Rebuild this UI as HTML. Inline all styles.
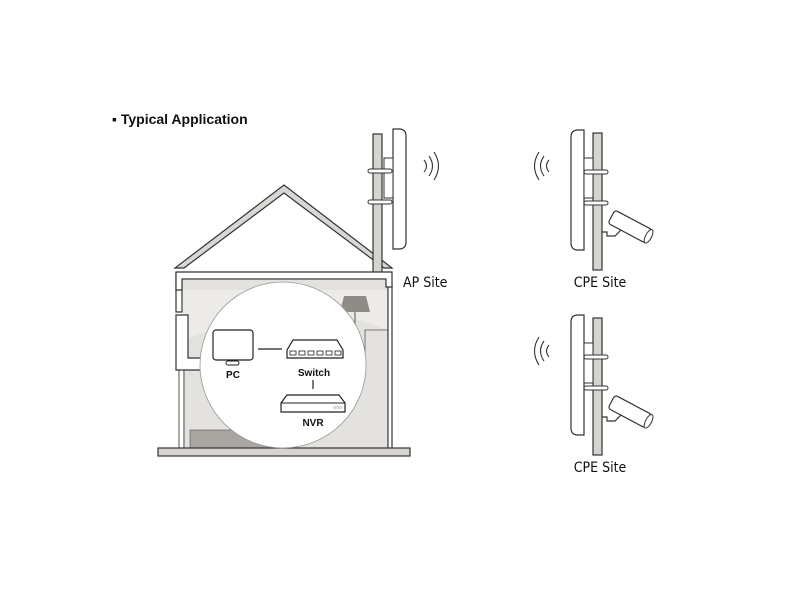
<!DOCTYPE html>
<html><head><meta charset="utf-8"><style>
html,body{margin:0;padding:0;background:#fff;}
svg{display:block;}
text{font-family:"Liberation Sans",sans-serif;fill:#111;}
.lbl{font-family:"DejaVu Sans Condensed","DejaVu Sans","Liberation Sans",sans-serif;}
</style></head><body>
<svg width="800" height="600" viewBox="0 0 800 600" xmlns="http://www.w3.org/2000/svg">
<rect x="0" y="0" width="800" height="600" fill="#fff"/>
<text x="112" y="124" font-size="14" font-weight="bold">▪ Typical Application</text>

<rect x="183" y="280" width="205" height="168" fill="#e4e2de"/>
<polygon points="183,290 388,290 388,330 300,300 183,340" fill="#ecebe8"/>
<rect x="190" y="430" width="80" height="18" fill="#a9a6a1" stroke="#555" stroke-width="0.6"/>
<polygon points="344,296 366,296 370,312 340,312" fill="#8f8c88"/>
<line x1="355" y1="312" x2="355" y2="330" stroke="#555"/>
<path d="M365,370 V330 H388" fill="none" stroke="#555" stroke-width="0.8"/>
<path d="M176,273 V312 H182 V280" fill="#fff" stroke="#333" stroke-width="1.2"/>
<path d="M176,315 V370 H230 V358 H188 V315 Z" fill="#fff" stroke="#333" stroke-width="1.2"/>
<line x1="179" y1="370" x2="179" y2="448" stroke="#555"/>
<line x1="184" y1="370" x2="184" y2="448" stroke="#555"/>
<line x1="388" y1="285" x2="388" y2="448" stroke="#333" stroke-width="1.2"/>
<line x1="392" y1="285" x2="392" y2="448" stroke="#333" stroke-width="1.2"/>
<polygon points="284,185 392,268 384,268 284,193 184,268 175,268" fill="#d9d7d3" stroke="#333" stroke-width="1.2"/>
<rect x="373" y="134" width="9" height="142" fill="#d6d4d0" stroke="#333" stroke-width="1.2"/>
<path d="M176,272 H392 V287 H386 V279 H182 V290 H176 Z" fill="#fff" stroke="#333" stroke-width="1.2"/>
<rect x="158" y="448" width="252" height="8" fill="#d6d4d0" stroke="#333" stroke-width="1.2"/>

<circle cx="283" cy="365" r="83" fill="#fff" stroke="#999" stroke-width="0.8"/>
<rect x="213" y="330" width="40" height="30" rx="3" fill="#fff" stroke="#222" stroke-width="1.2"/>
<rect x="226" y="361" width="13" height="4" rx="2" fill="#fff" stroke="#222"/>
<text x="233" y="378" font-size="10" font-weight="bold" text-anchor="middle">PC</text>
<line x1="258" y1="349" x2="282" y2="349" stroke="#222" stroke-width="1.2"/>
<polygon points="293,340 337,340 343,350 343,358 287,358 287,350" fill="#fff" stroke="#222" stroke-width="1.2"/>
<g fill="none" stroke="#222" stroke-width="0.8">
<rect x="290" y="351" width="6" height="4"/><rect x="299" y="351" width="6" height="4"/><rect x="308" y="351" width="6" height="4"/><rect x="317" y="351" width="6" height="4"/><rect x="326" y="351" width="6" height="4"/><rect x="335" y="351" width="6" height="4"/>
</g>
<text x="314" y="376" font-size="10" font-weight="bold" text-anchor="middle">Switch</text>
<line x1="313" y1="380" x2="313" y2="389" stroke="#222" stroke-width="1.2"/>
<polygon points="287,395 339,395 345,403 345,412 281,412 281,403" fill="#fff" stroke="#222" stroke-width="1.2"/>
<line x1="281" y1="403" x2="345" y2="403" stroke="#222"/>
<text x="333" y="409" font-size="5">○○○</text>
<text x="313" y="426" font-size="10" font-weight="bold" text-anchor="middle">NVR</text>

<path d="M399,129 Q406,129 406,136 V242 Q406,249 399,249 H393 V129 Z" fill="#fff" stroke="#333" stroke-width="1.2"/>
<rect x="384" y="158" width="9" height="40" fill="#fff" stroke="#333"/>
<rect x="368" y="169" width="24" height="4" rx="2" fill="#fff" stroke="#333"/>
<rect x="368" y="200" width="24" height="4" rx="2" fill="#fff" stroke="#333"/>
<g fill="none" stroke="#333" stroke-width="1.1">
<path d="M424,160 Q429,166 424,172"/><path d="M429,156 Q436,166 429,176"/><path d="M434,152 Q443,166 434,180"/>
</g>
<text class="lbl" x="403" y="287" font-size="14">AP Site</text>

<g id="cpe">
<rect x="593" y="133" width="9" height="137" fill="#d6d4d0" stroke="#333" stroke-width="1.2"/>
<path d="M578,130 Q571,130 571,137 V243 Q571,250 578,250 H584 V130 Z" fill="#fff" stroke="#333" stroke-width="1.2"/>
<rect x="584" y="158" width="9" height="40" fill="#fff" stroke="#333"/>
<rect x="584" y="170" width="24" height="4" rx="2" fill="#fff" stroke="#333"/>
<rect x="584" y="201" width="24" height="4" rx="2" fill="#fff" stroke="#333"/>
<path d="M602,232 H607 V236 L615,236 L625,226" fill="none" stroke="#333" stroke-width="1.2"/>
<g transform="translate(615,210) rotate(28)">
<rect x="0" y="0" width="42" height="15" rx="3" fill="#fff" stroke="#333" stroke-width="1.2"/>
<ellipse cx="42" cy="7.5" rx="3" ry="7.5" fill="#fff" stroke="#333"/>
</g>
<g fill="none" stroke="#333" stroke-width="1.1">
<path d="M549,160 Q544,166 549,172"/><path d="M544,156 Q537,166 544,176"/><path d="M539,152 Q530,166 539,180"/>
</g>
<text class="lbl" x="600" y="287" font-size="14" text-anchor="middle">CPE Site</text>
</g>
<use href="#cpe" transform="translate(0,185)"/>
</svg>
</body></html>
